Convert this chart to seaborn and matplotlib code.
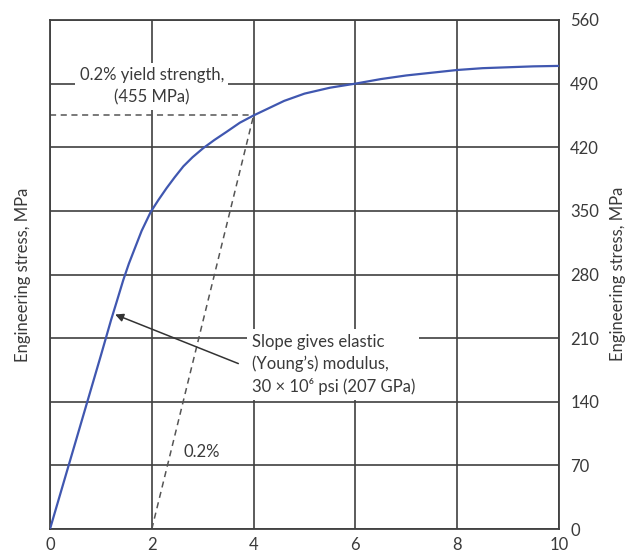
import numpy as np
import pandas as pd
import matplotlib
matplotlib.use("Agg")
import matplotlib.pyplot as plt
import seaborn as sns

# values
strain = [0.0, 1.0, 1.2, 1.31, 1.44, 1.55, 1.64, 1.8, 1.98, 2.13, 2.29, 2.45,
          2.62, 2.8, 3.01, 3.23, 3.47, 3.73, 4.0, 4.3, 4.6, 5.0, 5.5, 6.0,
          6.5, 7.0, 7.5, 8.0, 8.5, 9.0, 9.5, 10.0]
stress = [0, 191, 230, 250, 274, 292, 305, 328, 349, 362, 375, 387,
          399, 409, 419, 428, 437, 447, 455, 463, 471, 479, 485.5, 490,
          495, 499, 502, 505, 507, 508, 509, 509.5]

xticks = [0, 2, 4, 6, 8, 10]
yticks = [0, 70, 140, 210, 280, 350, 420, 490, 560]

yield_strength = 455
offset_start = 2
yield_strain = 4

df = pd.DataFrame({"strain": strain, "stress": stress})

sns.set_style("white")
plt.rcParams["font.family"] = ["Lato", "DejaVu Sans"]

ink = "#3a3a3a"
grid_c = "#404040"

fig = plt.figure(figsize=(6.28, 5.54), dpi=100)
ax = fig.add_axes([50 / 628, 1 - 529 / 554, 509 / 628, 509 / 554])

ax.set_xlim(0, 10)
ax.set_ylim(0, 560)
ax.set_xticks(xticks)
ax.set_yticks(yticks)
ax.grid(True, color=grid_c, linewidth=1.2, zorder=0)
ax.set_axisbelow(True)
for sp in ax.spines.values():
    sp.set_color(grid_c)
    sp.set_linewidth(1.3)

ax.yaxis.tick_right()
ax.tick_params(axis="both", length=0, labelsize=12, labelcolor=ink)
ax.tick_params(axis="y", pad=8)
ax.tick_params(axis="x", pad=6)

# offset line and yield level
ax.plot([offset_start, yield_strain], [0, yield_strength], ls=(0, (4, 3)),
        color="#555555", lw=1.1, zorder=2)
ax.plot([0, yield_strain], [yield_strength, yield_strength], ls=(0, (4, 3)),
        color="#555555", lw=1.1, zorder=2)

sns.lineplot(data=df, x="strain", y="stress", ax=ax, color="#4057b0",
             linewidth=1.6, zorder=3)

ax.set_xlabel("")
ax.yaxis.set_label_position("left")
ax.set_ylabel("Engineering stress, MPa", fontsize=12, color=ink, labelpad=14)
fig.text(618 / 628, 0.505, "Engineering stress, MPa", rotation=90,
         fontsize=12, color=ink, ha="center", va="center")

box = dict(facecolor="white", edgecolor="none", pad=3)
ax.text(2.0, 487, "0.2% yield strength,\n(455 MPa)", fontsize=12, color=ink,
        ha="center", va="center", linespacing=1.5, bbox=box, zorder=4)
ax.text(3.96, 181, "Slope gives elastic\n(Young\u2019s) modulus,\n"
        "30 \u00d7 10\u2076 psi (207 GPa)", fontsize=12, color=ink,
        ha="left", va="center", linespacing=1.45, bbox=box, zorder=4)
ax.text(2.62, 85, "0.2%", fontsize=12, color=ink, ha="left", va="center")

ax.annotate("", xy=(1.28, 236), xytext=(3.7, 182),
            arrowprops=dict(arrowstyle="-|>", color="#333333", lw=1.1,
                            mutation_scale=12, shrinkA=0, shrinkB=0),
            zorder=5)

fig.savefig("out.png", dpi=100)
